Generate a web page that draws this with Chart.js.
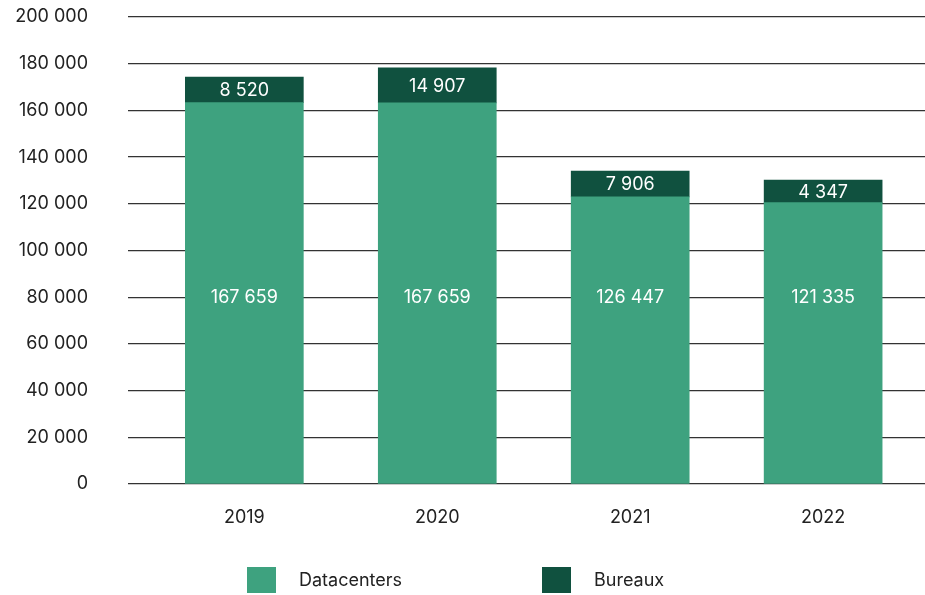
<!DOCTYPE html>
<html>
<head>
<meta charset="utf-8">
<script src="https://cdn.jsdelivr.net/npm/chart.js@4/dist/chart.umd.min.js"></script>
<style>
  body { margin: 0; background: #fff; }
  #wrap { position: relative; width: 925px; height: 595px; }
  #legend { position: absolute; left: 0; top: 566px; width: 925px; height: 27px; font-family: Inter, sans-serif; font-size: 18px; color: #222; }
  .item { position: absolute; top: 0; height: 27px; display: flex; align-items: center; }
  .box { width: 29px; height: 26px; margin-right: 23px; }
</style>
</head>
<body>
<div id="wrap">
  <canvas id="myChart" width="925" height="595"></canvas>
  <div id="legend"></div>
</div>
<script>
var years = ['2019', '2020', '2021', '2022'];

// bar heights as drawn in the picture
var datacenters = [163300, 163200, 123000, 120500];
var bureaux = [11000, 15000, 11000, 9700];

// printed values on the bars
var datacentersText = ['167 659', '167 659', '126 447', '121 335'];
var bureauxText = ['8 520', '14 907', '7 906', '4 347'];

// the datacenter values all sit on the same level line
var datacentersTextLevel = 80000;

var yTicks = [0, 20000, 40000, 60000, 80000, 100000, 120000, 140000, 160000, 180000, 200000];

var lightGreen = '#3ea27f';
var darkGreen = '#10513f';

function spaced(n){
  return String(n).replace(/\B(?=(\d{3})+(?!\d))/g, ' ');
}

function points(values){
  return values.map(function(v, i){ return {x: i, y: v}; });
}

// draw the printed values on each segment
var barText = {
  id: 'barText',
  afterDatasetsDraw: function(chart){
    var c = chart.ctx;
    var yScale = chart.scales.y;
    c.save();
    c.fillStyle = '#ffffff';
    c.font = '18px Inter, sans-serif';
    c.textAlign = 'center';
    c.textBaseline = 'middle';
    chart.data.datasets.forEach(function(ds, d){
      chart.getDatasetMeta(d).data.forEach(function(bar, i){
        var y = d === 0 ? yScale.getPixelForValue(datacentersTextLevel) : (bar.y + bar.base) / 2 + 1;
        c.fillText(ds.texts[i], bar.x, y);
      });
    });
    c.restore();
  }
};

var ctx = document.getElementById('myChart').getContext('2d');
var myChart = new Chart(ctx, {
  type: 'bar',
  data: {
    datasets: [
      { label: 'Datacenters', data: points(datacenters), texts: datacentersText, backgroundColor: lightGreen },
      { label: 'Bureaux', data: points(bureaux), texts: bureauxText, backgroundColor: darkGreen }
    ]
  },
  options: {
    responsive: false,
    animation: false,
    barThickness: 118,
    layout: { padding: { top: 17, right: 0, bottom: 0, left: 0 } },
    plugins: { legend: { display: false }, tooltip: { enabled: false } },
    scales: {
      x: {
        type: 'linear',
        stacked: true,
        bounds: 'data',
        offset: false,
        min: -0.603,
        max: 3.528,
        grid: { display: false },
        border: { display: false },
        afterBuildTicks: function(scale){ scale.ticks = years.map(function(_, i){ return {value: i}; }); },
        afterFit: function(scale){
          scale.height = 111;
          scale.paddingLeft = 0;
          scale.paddingRight = 0;
        },
        ticks: {
          padding: 15,
          color: '#222',
          font: { family: 'Inter, sans-serif', size: 18 },
          callback: function(v){ return years[v]; }
        }
      },
      y: {
        stacked: true,
        min: 0,
        max: 200000,
        afterBuildTicks: function(scale){ scale.ticks = yTicks.map(function(v){ return {value: v}; }); },
        afterFit: function(scale){
          scale.width = 128;
          scale.paddingTop = 0;
          scale.paddingBottom = 0;
        },
        grid: { color: '#333', lineWidth: 1.3, drawTicks: false },
        border: { display: false },
        ticks: {
          padding: 40,
          color: '#222',
          font: { family: 'Inter, sans-serif', size: 18 },
          callback: function(v){ return spaced(v); }
        }
      }
    }
  },
  plugins: [barText]
});

// legend below the chart, built from the datasets
var legendX = [247, 542];
var legend = document.getElementById('legend');
myChart.data.datasets.forEach(function(ds, i){
  var item = document.createElement('div');
  item.className = 'item';
  item.style.left = legendX[i] + 'px';
  item.innerHTML = '<div class="box" style="background:' + ds.backgroundColor + '"></div><span>' + ds.label + '</span>';
  legend.appendChild(item);
});
</script>
</body>
</html>
